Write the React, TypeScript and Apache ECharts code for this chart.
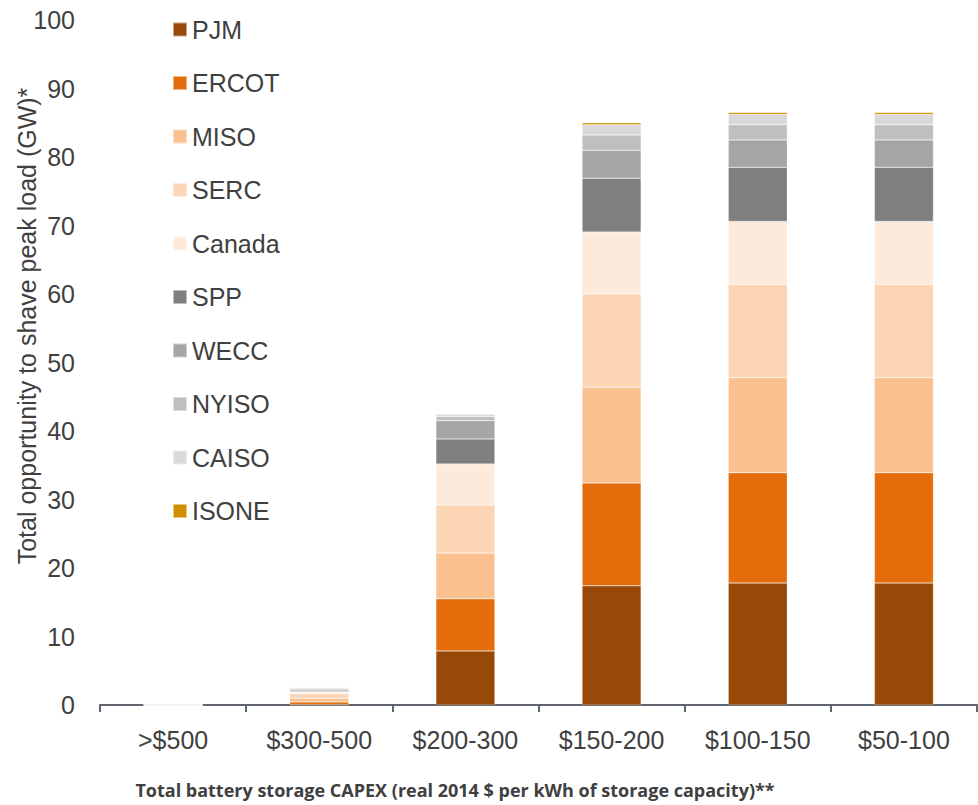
import React, { useEffect, useRef } from "react";
import * as echarts from "echarts";

const categories = [">$500", "$300-500", "$200-300", "$150-200", "$100-150", "$50-100"];
const seriesNames = ["PJM", "ERCOT", "MISO", "SERC", "Canada", "SPP", "WECC", "NYISO", "CAISO", "ISONE"];
const colors = ["#984807", "#E46C0A", "#FAC090", "#FCD5B5", "#FDEADA", "#7F7F7F", "#A5A5A5", "#BFBFBF", "#D9D9D9", "#CF8F00"];

const pjm = [0, 0.05, 7.9, 17.4, 17.8, 17.8];
const ercot = [0, 0.4, 7.6, 15.0, 16.1, 16.1];
const miso = [0, 0.55, 6.7, 14.0, 13.9, 13.9];
const serc = [0, 0.65, 7.0, 13.6, 13.6, 13.6];
const canada = [0, 0.2, 6.0, 9.05, 9.2, 9.2];
const spp = [0, 0.15, 3.65, 7.85, 7.9, 7.9];
const wecc = [0, 0.2, 2.67, 4.1, 4.0, 4.0];
const nyiso = [0, 0.2, 0.6, 2.2, 2.2, 2.2];
const caiso = [0, 0.15, 0.35, 1.5, 1.5, 1.5];
const isone = [0, 0, 0, 0.3, 0.3, 0.3];

const seriesValues = [pjm, ercot, miso, serc, canada, spp, wecc, nyiso, caiso, isone];

const yTicks = { min: 0, max: 100, interval: 10 };

const yAxisName = "Total opportunity to shave peak load (GW)*";
const xAxisName = "Total battery storage CAPEX (real 2014 $ per kWh of storage capacity)**";

export default function App() {
  const ref = useRef<HTMLDivElement>(null);
  useEffect(() => {
    if (!ref.current) return;
    const chart = echarts.init(ref.current, null, { renderer: "svg" });
    const textColor = "#404040";
    const font = "Liberation Sans, Arial";
    chart.setOption({
      animation: false,
      grid: { left: 100, right: 1, top: 20, bottom: 100, containLabel: false },
      legend: {
        orient: "vertical",
        left: 167,
        top: 12,
        itemWidth: 14,
        itemHeight: 14,
        itemGap: 28.5,
        icon: "rect",
        data: seriesNames,
        textStyle: { fontSize: 25, color: textColor, fontFamily: font, lineHeight: 25 },
      },
      xAxis: {
        type: "category",
        data: categories,
        axisLine: { lineStyle: { color: "#5F666D", width: 2 } },
        axisTick: { show: true, length: 7, lineStyle: { color: "#5F666D", width: 2 } },
        axisLabel: { fontSize: 25, color: textColor, margin: 22, fontFamily: font },
      },
      yAxis: {
        type: "value",
        min: yTicks.min,
        max: yTicks.max,
        interval: yTicks.interval,
        axisLine: { show: false },
        axisTick: { show: false },
        splitLine: { show: false },
        axisLabel: { fontSize: 25, color: textColor, margin: 25, fontFamily: font },
      },
      series: seriesNames.map((name, i) => ({
        name,
        type: "bar",
        stack: "total",
        barWidth: 59,
        data: seriesValues[i],
        itemStyle: { color: colors[i], borderColor: "rgba(255,255,255,0.5)", borderWidth: 0.5 },
      })),
      graphic: [
        {
          type: "text",
          x: 27,
          y: 326,
          rotation: Math.PI / 2,
          style: {
            text: yAxisName,
            fontSize: 25,
            fill: textColor,
            fontFamily: font,
            align: "center",
            verticalAlign: "middle",
          },
        },
        {
          type: "text",
          x: 455,
          y: 790,
          style: {
            text: xAxisName,
            fontSize: 18,
            fontWeight: "bold",
            fill: textColor,
            fontFamily: "Open Sans",
            align: "center",
            verticalAlign: "middle",
          },
        },
      ],
    });
    return () => chart.dispose();
  }, []);
  return <div ref={ref} style={{ width: 978, height: 805, position: "absolute", left: 0, top: 0 }} />;
}
